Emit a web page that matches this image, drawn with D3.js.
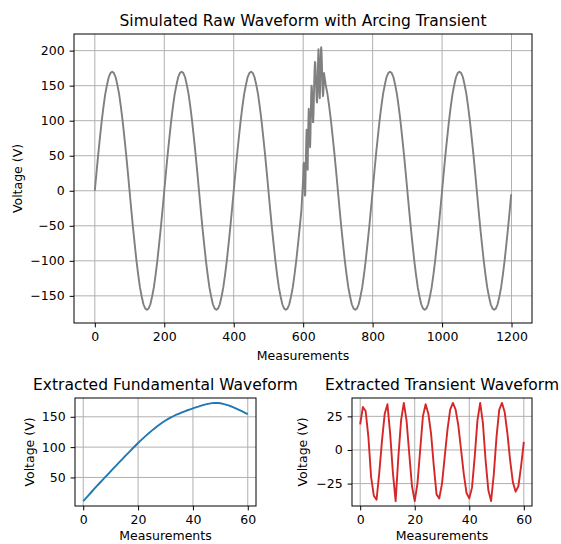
<!DOCTYPE html>
<html>
<head>
<meta charset="utf-8">
<script src="https://cdn.jsdelivr.net/npm/d3@7"></script>
<style>
  body { margin: 0; background: #fff; }
  svg { font-family: "DejaVu Sans", sans-serif; }
</style>
</head>
<body>
<script>
// raw waveform, read every 5 measurements (0..1195), plus the last point
var rawStep = 5;
var rawVoltage = [
  0, 27, 53, 77, 100, 120, 138, 151, 162, 168, 170, 168, 162, 151, 138, 120, 100, 77, 53, 27,
  0, -27, -53, -77, -100, -120, -138, -151, -162, -168, -170, -168, -162, -151, -138, -120, -100, -77, -53, -27,
  0, 27, 53, 77, 100, 120, 138, 151, 162, 168, 170, 168, 162, 151, 138, 120, 100, 77, 53, 27,
  0, -27, -53, -77, -100, -120, -138, -151, -162, -168, -170, -168, -162, -151, -138, -120, -100, -77, -53, -27,
  0, 27, 53, 77, 100, 120, 138, 151, 162, 168, 170, 168, 162, 151, 138, 120, 100, 77, 53, 27,
  0, -27, -53, -77, -100, -120, -138, -151, -162, -168, -170, -168, -162, -151, -138, -120, -100, -77, -53, -27,
  0, 27, 53, 77, 100, 120, 138, 151, 162, 168, 170, 168, 162, 151, 138, 120, 100, 77, 53, 27,
  0, -27, -53, -77, -100, -120, -138, -151, -162, -168, -170, -168, -162, -151, -138, -120, -100, -77, -53, -27,
  0, 27, 53, 77, 100, 120, 138, 151, 162, 168, 170, 168, 162, 151, 138, 120, 100, 77, 53, 27,
  0, -27, -53, -77, -100, -120, -138, -151, -162, -168, -170, -168, -162, -151, -138, -120, -100, -77, -53, -27,
  0, 27, 53, 77, 100, 120, 138, 151, 162, 168, 170, 168, 162, 151, 138, 120, 100, 77, 53, 27,
  0, -27, -53, -77, -100, -120, -138, -151, -162, -168, -170, -168, -162, -151, -138, -120, -100, -77, -53, -27
];
var rawLastMeasurement = 1199;
var rawLastVoltage = -5;

// arcing part of the raw waveform, every measurement from 600 to 660
var arcStart = 600;
var arcVoltage = [
  19, 37, 40, 26, 1, -7, -5, 20, 49, 74, 87, 70, 46, 30, 67, 99, 117, 109, 88, 69,
  62, 79, 108, 137, 150, 147, 136, 116, 98, 98, 113, 136, 159, 176, 184, 182, 172, 156, 140, 128,
  126, 135, 160, 188, 202, 188, 161, 139, 132, 152, 180, 200, 205, 197, 181, 160, 143, 135, 138, 151,
  168
];

// extracted waveforms, measurements 0..60
var fundamentalVoltage = [
  11, 16, 21, 26, 31, 36, 40.8, 45.6, 50.4, 55.2, 60, 64.8, 69.6, 74.4, 79.1, 83.8, 88.5, 93.1, 97.7, 102.3,
  106.8, 111.1, 115.3, 119.4, 123.4, 127.2, 130.8, 134.3, 137.7, 140.9, 143.9, 146.6, 149.1, 151.3, 153.4, 155.4, 157.3, 159.1, 160.8, 162.4,
  164, 165.5, 166.9, 168.3, 169.6, 170.8, 171.8, 172.5, 172.9, 172.8, 172.3, 171.4, 170.2, 168.7, 167, 165.1, 163.1, 161, 158.8, 156.6,
  154.3
];
var transientVoltage = [
  19, 32, 29, 10, -20, -34, -37, -17, 7, 27, 34, 12, -17, -38, -5, 22, 35, 22, -3, -27,
  -38, -25, 0, 25, 34, 27, 12, -12, -33, -36, -25, -5, 15, 30, 35, 30, 18, 0, -18, -32,
  -36, -28, -5, 22, 35, 20, -8, -30, -38, -18, 10, 30, 35, 28, 12, -8, -24, -31, -27, -12,
  6
];

var rawXTicks = [0, 200, 400, 600, 800, 1000, 1200];
var rawYTicks = [-150, -100, -50, 0, 50, 100, 150, 200];
var subXTicks = [0, 20, 40, 60];
var fundamentalYTicks = [50, 100, 150];
var transientYTicks = [-25, 0, 25];

var titles = [
  "Simulated Raw Waveform with Arcing Transient",
  "Extracted Fundamental Waveform",
  "Extracted Transient Waveform"
];
var xLabel = "Measurements";
var yLabel = "Voltage (V)";

// build the raw series
var rawPoints = [];
rawVoltage.forEach(function(v, i) {
  var m = i * rawStep;
  if (m < arcStart || m > arcStart + arcVoltage.length - 1) rawPoints.push([m, v]);
});
arcVoltage.forEach(function(v, i) { rawPoints.push([arcStart + i, v]); });
rawPoints.push([rawLastMeasurement, rawLastVoltage]);
rawPoints.sort(function(a, b) { return a[0] - b[0]; });

function indexed(values) {
  return values.map(function(v, i) { return [i, v]; });
}

var width = 561, height = 544;
var svg = d3.select("body").append("svg")
  .attr("width", width)
  .attr("height", height);

// matplotlib style 5% margins
function padded(ext) {
  var d = (ext[1] - ext[0]) * 0.05;
  return [ext[0] - d, ext[1] + d];
}

var tickFmt = d3.format("d");

function panel(o) {
  var x = d3.scaleLinear()
    .domain(padded(d3.extent(o.data, function(d) { return d[0]; })))
    .range([o.left, o.right]);
  var y = d3.scaleLinear()
    .domain(padded(d3.extent(o.data, function(d) { return d[1]; })))
    .range([o.bottom, o.top]);

  var g = svg.append("g");

  // grid
  g.selectAll(".gx").data(o.xTicks).enter().append("line")
    .attr("x1", function(d) { return x(d); })
    .attr("x2", function(d) { return x(d); })
    .attr("y1", o.top).attr("y2", o.bottom)
    .attr("stroke", "#b0b0b0").attr("stroke-width", 1);
  g.selectAll(".gy").data(o.yTicks).enter().append("line")
    .attr("y1", function(d) { return y(d); })
    .attr("y2", function(d) { return y(d); })
    .attr("x1", o.left).attr("x2", o.right)
    .attr("stroke", "#b0b0b0").attr("stroke-width", 1);

  // the line
  g.append("path")
    .datum(o.data)
    .attr("fill", "none")
    .attr("stroke", o.color)
    .attr("stroke-width", 1.9)
    .attr("stroke-linejoin", "round")
    .attr("d", d3.line()
      .x(function(d) { return x(d[0]); })
      .y(function(d) { return y(d[1]); }));

  // axes
  var ax = g.append("g")
    .attr("transform", "translate(0," + o.bottom + ")")
    .call(d3.axisBottom(x).tickValues(o.xTicks).tickFormat(tickFmt)
      .tickSizeInner(4.4).tickSizeOuter(0).tickPadding(4.9));
  var ay = g.append("g")
    .attr("transform", "translate(" + o.left + ",0)")
    .call(d3.axisLeft(y).tickValues(o.yTicks).tickFormat(tickFmt)
      .tickSizeInner(4.4).tickSizeOuter(0).tickPadding(4.9));
  [ax, ay].forEach(function(a) {
    a.attr("font-size", 12.5).attr("font-family", "DejaVu Sans, sans-serif");
    a.select(".domain").remove();
    a.selectAll("line").attr("stroke", "#000").attr("stroke-width", 1);
    a.selectAll("text").attr("fill", "#000");
  });

  // frame
  g.append("rect")
    .attr("x", o.left).attr("y", o.top)
    .attr("width", o.right - o.left).attr("height", o.bottom - o.top)
    .attr("fill", "none").attr("stroke", "#000").attr("stroke-width", 1);

  // texts
  g.append("text")
    .attr("x", (o.left + o.right) / 2).attr("y", o.top - 8)
    .attr("text-anchor", "middle").attr("font-size", 15.5)
    .text(o.title);
  g.append("text")
    .attr("x", (o.left + o.right) / 2).attr("y", Math.min(o.bottom + 37, height - 4))
    .attr("text-anchor", "middle").attr("font-size", 12.5)
    .text(xLabel);
  g.append("text")
    .attr("transform", "translate(" + o.yLabelX + "," + (o.top + o.bottom) / 2 + ") rotate(-90)")
    .attr("dy", "0.35em")
    .attr("text-anchor", "middle").attr("font-size", 12.5)
    .text(yLabel);
}

panel({
  data: rawPoints, color: "#808080", title: titles[0],
  left: 74, right: 532, top: 34, bottom: 323, yLabelX: 18,
  xTicks: rawXTicks, yTicks: rawYTicks
});
panel({
  data: indexed(fundamentalVoltage), color: "#1f77b4", title: titles[1],
  left: 75, right: 256, top: 398, bottom: 506, yLabelX: 30,
  xTicks: subXTicks, yTicks: fundamentalYTicks
});
panel({
  data: indexed(transientVoltage), color: "#d62728", title: titles[2],
  left: 352, right: 532, top: 398, bottom: 506, yLabelX: 303,
  xTicks: subXTicks, yTicks: transientYTicks
});
</script>
</body>
</html>
